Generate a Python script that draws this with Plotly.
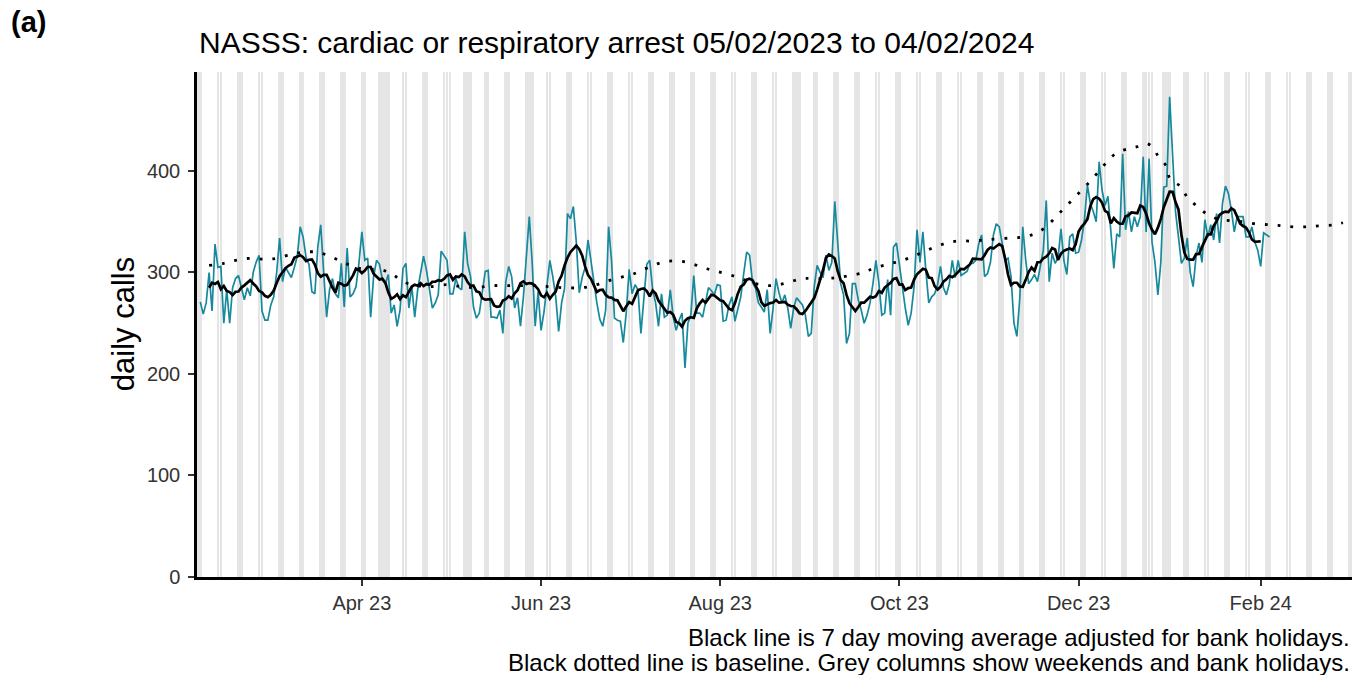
import pandas as pd
import plotly.graph_objects as go

# ---------------- data ----------------
series_start = "2023-02-05"

daily_calls = [
    271, 259, 270, 300, 262, 328, 305,
    306, 250, 283, 250, 285, 294, 297,
    285, 273, 285, 277, 300, 310, 317,
    262, 253, 253, 268, 276, 300, 334,
    291, 305, 300, 295, 305, 316, 345,
    335, 315, 308, 281, 279, 325, 347,
    300, 256, 283, 294, 279, 275, 309,
    266, 324, 276, 279, 286, 309, 340,
    312, 314, 256, 296, 312, 308, 293,
    289, 298, 260, 268, 247, 263, 304,
    309, 265, 286, 256, 283, 300, 316,
    302, 284, 265, 270, 278, 321, 317,
    312, 279, 279, 294, 285, 283, 340,
    309, 296, 266, 255, 260, 283, 301,
    302, 256, 256, 255, 263, 240, 291,
    306, 296, 265, 275, 247, 276, 312,
    355, 309, 247, 281, 243, 261, 289,
    312, 296, 276, 242, 270, 284, 358,
    353, 365, 330, 280, 295, 305, 332,
    310, 290, 270, 254, 247, 263, 345,
    312, 255, 253, 252, 231, 260, 303,
    279, 288, 283, 240, 276, 308, 312,
    283, 270, 247, 279, 256, 258, 283,
    256, 243, 253, 260, 206, 250, 258,
    297, 260, 260, 256, 270, 285, 282,
    278, 288, 287, 252, 253, 268, 276,
    252, 263, 276, 299, 320, 317, 290,
    285, 270, 266, 261, 283, 240, 265,
    294, 280, 270, 278, 265, 245, 265,
    275, 271, 268, 258, 237, 240, 286,
    307, 300, 295, 317, 302, 310, 370,
    330, 289, 278, 230, 240, 289, 289,
    273, 263, 250, 258, 270, 289, 312,
    290, 258, 260, 293, 258, 325, 329,
    306, 285, 265, 248, 260, 286, 342,
    310, 340, 302, 270, 276, 279, 288,
    306, 285, 278, 289, 312, 295, 312,
    297, 299, 301, 309, 309, 312, 328,
    337, 296, 299, 310, 337, 348, 345,
    330, 312, 314, 296, 250, 237, 275,
    345, 312, 289, 293, 298, 291, 306,
    322, 371, 291, 319, 309, 314, 343,
    312, 298, 335, 338, 319, 320, 332,
    352, 386, 368, 360, 350, 409, 381,
    366, 375, 340, 304, 338, 335, 417,
    342, 360, 340, 355, 345, 355, 414,
    340, 412, 330, 310, 278, 310, 384,
    385, 473, 410, 360, 335, 309, 314,
    334, 300, 286, 316, 329, 310, 352,
    335, 347, 332, 358, 329, 368, 385,
    378, 362, 340, 355, 355, 355, 335,
    335, 345, 330, 322, 306, 339, 337,
    335,
]

# baseline (dotted line): day offset from series start and value
baseline_day = [
    3, 8, 12, 17, 22, 26, 31, 35, 40, 44, 48, 52, 56, 61, 65, 69, 74, 78, 84,
    89, 94, 99, 104, 109, 114, 119, 124, 130, 135, 139, 143, 147, 151, 155,
    159, 164, 168, 172, 176, 181, 185, 189, 193, 197, 201, 205, 208, 213, 217,
    221, 226, 229, 234, 238, 242, 246, 250, 254, 258, 263, 267, 271, 276, 280,
    284, 288, 291, 294, 297, 300, 303, 306, 309, 312, 316, 319, 322, 324, 326,
    329, 330, 334, 336, 339, 342, 346, 351, 355, 359, 364, 368, 372, 377, 381,
    386, 389,
]
baseline_calls = [
    307, 309, 312, 314, 313, 314, 318, 320, 320, 316, 311, 306, 303, 303, 299,
    291, 287, 286, 288, 286, 285, 287, 287, 287, 287, 286, 285, 285, 288, 292,
    295, 298, 303, 308, 311, 311, 308, 304, 301, 297, 293, 289, 287, 288, 291,
    294, 294, 294, 295, 297, 300, 304, 308, 311, 315, 320, 325, 329, 331, 331,
    332, 333, 334, 335, 338, 345, 354, 363, 372, 381, 390, 400, 410, 418, 422,
    424, 427, 424, 415, 404, 393, 384, 374, 366, 359, 353, 351, 350, 348, 347,
    346, 345, 345, 346, 347, 349,
]

bank_holidays = ["2023-04-07", "2023-04-10", "2023-05-01", "2023-05-08",
                 "2023-05-29", "2023-08-28", "2023-12-25", "2023-12-26",
                 "2024-01-01"]
shade_start, shade_end = "2023-02-04", "2024-03-03"

x_tick_dates = ["2023-04-01", "2023-06-01", "2023-08-01", "2023-10-01",
                "2023-12-01", "2024-02-01"]
x_tick_labels = ["Apr 23", "Jun 23", "Aug 23", "Oct 23", "Dec 23", "Feb 24"]
y_ticks = [0, 100, 200, 300, 400]

title_text = "NASSS: cardiac or respiratory arrest 05/02/2023 to 04/02/2024"
caption_lines = ["Black line is 7 day moving average adjusted for bank holidays.",
                 "Black dotted line is baseline. Grey columns show weekends and bank holidays."]
panel_label = "<b>(a)</b>"
y_title = "daily calls"

# ---------------- derived ----------------
dates = pd.date_range(series_start, periods=len(daily_calls), freq="D")
moving_avg = pd.Series(daily_calls, index=dates).rolling(7, center=True).mean()
baseline_dates = pd.Timestamp(series_start) + pd.to_timedelta(baseline_day, unit="D")

all_days = pd.date_range(shade_start, shade_end, freq="D")
hol = set(pd.to_datetime(bank_holidays))
grey_days = [d for d in all_days if d.weekday() >= 5 or d in hol]

DAY_MS = 86400000
FONT = "Liberation Sans, Arial, sans-serif"
TEAL = "#17899D"

fig = go.Figure()
fig.add_trace(go.Bar(
    x=grey_days, y=[600] * len(grey_days), width=0.9 * DAY_MS,
    marker=dict(color="#E5E5E5", line=dict(width=0)),
    hoverinfo="skip", showlegend=False))
fig.add_trace(go.Scatter(
    x=dates, y=daily_calls, mode="lines",
    line=dict(color=TEAL, width=1.7), showlegend=False))
fig.add_trace(go.Scatter(
    x=dates, y=moving_avg, mode="lines",
    line=dict(color="black", width=2.7), showlegend=False))
fig.add_trace(go.Scatter(
    x=baseline_dates, y=baseline_calls, mode="lines",
    line=dict(color="black", width=2.8, dash="2.8px,10px", shape="spline"),
    showlegend=False))

fig.update_layout(
    width=1357, height=675,
    margin=dict(l=197, r=5, t=72, b=98),
    paper_bgcolor="white", plot_bgcolor="white",
    font=dict(family=FONT, color="#333333"),
    barmode="overlay", bargap=0,
    showlegend=False,
)
fig.update_xaxes(
    range=["2023-02-03 21:00", "2024-03-03 02:00"],
    tickmode="array", tickvals=x_tick_dates, ticktext=x_tick_labels,
    ticks="outside", ticklen=6, tickwidth=2, tickcolor="#333333",
    tickfont=dict(size=20, color="#333333", family=FONT),
    showline=True, linecolor="black", linewidth=2.5,
    showgrid=False, zeroline=False,
)
fig.update_yaxes(
    range=[0, 497.5],
    tickmode="array", tickvals=y_ticks,
    ticks="outside", ticklen=6, tickwidth=2, tickcolor="#333333",
    tickfont=dict(size=20, color="#333333", family=FONT),
    ticklabelstandoff=4,
    showline=True, linecolor="black", linewidth=2.5,
    showgrid=False, zeroline=False,
)

annotations = [
    dict(text=title_text, xref="paper", yref="paper", x=0, y=1,
         xanchor="left", yanchor="middle", yshift=30, showarrow=False,
         font=dict(size=30, color="black", family=FONT)),
    dict(text=panel_label, xref="paper", yref="paper", x=-0.163, y=1,
         xanchor="left", yanchor="middle", yshift=50, showarrow=False,
         font=dict(size=29, color="black", family=FONT)),
    dict(text=y_title, xref="paper", yref="paper", x=-0.0635, y=0.5,
         xanchor="center", yanchor="middle", textangle=-90, showarrow=False,
         font=dict(size=31, color="black", family=FONT)),
    dict(text=caption_lines[0], xref="paper", yref="paper", x=1, y=0,
         xanchor="right", yanchor="middle", yshift=-60, showarrow=False,
         font=dict(size=24, color="black", family=FONT)),
    dict(text=caption_lines[1], xref="paper", yref="paper", x=1, y=0,
         xanchor="right", yanchor="middle", yshift=-85, showarrow=False,
         font=dict(size=24, color="black", family=FONT)),
]
fig.update_layout(annotations=annotations)

fig.write_html(
    "out.html",
    config={"displayModeBar": False},
    post_script="document.body.style.margin='0';document.body.style.overflow='hidden';",
)
